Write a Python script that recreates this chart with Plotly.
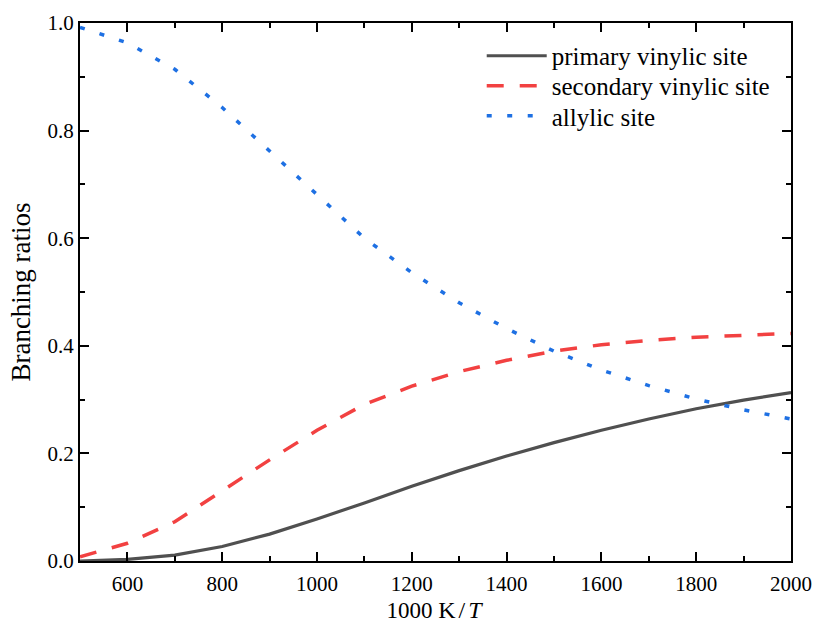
import plotly.graph_objects as go

# Inverse temperature grid, 1000 K/T
inv_T = [500, 600, 700, 800, 900, 1000, 1100, 1200, 1300, 1400,
         1500, 1600, 1700, 1800, 1900, 2000]

# Branching ratios for H-abstraction at each site
primary_vinylic = [0.000, 0.003, 0.011, 0.027, 0.050, 0.078, 0.108, 0.139,
                   0.168, 0.195, 0.220, 0.243, 0.264, 0.283, 0.299, 0.313]
secondary_vinylic = [0.008, 0.033, 0.073, 0.130, 0.188, 0.243, 0.291, 0.325,
                     0.352, 0.373, 0.390, 0.402, 0.410, 0.416, 0.420, 0.423]
allylic = [0.992, 0.963, 0.914, 0.843, 0.762, 0.680, 0.600, 0.536,
           0.480, 0.432, 0.390, 0.355, 0.326, 0.301, 0.281, 0.264]

series_names = ["primary vinylic site", "secondary vinylic site", "allylic site"]

FONT = "Times New Roman, Liberation Serif, serif"

fig = go.Figure()
fig.add_trace(go.Scatter(
    x=inv_T, y=primary_vinylic, mode="lines", name=series_names[0],
    line=dict(color="#505050", width=3.2), legend="legend", showlegend=True,
))
fig.add_trace(go.Scatter(
    x=inv_T, y=secondary_vinylic, mode="lines", name=series_names[1],
    line=dict(color="#F24141", width=3.5, dash="17px,16px"),
    legend="legend2", showlegend=True,
))
fig.add_trace(go.Scatter(
    x=inv_T, y=allylic, mode="lines", name=series_names[2],
    line=dict(color="#1E70E3", width=3.5, dash="5px,15.5px"),
    legend="legend3", showlegend=True,
))

axis_common = dict(
    showline=True, linecolor="black", linewidth=2,
    mirror="allticks", ticks="inside", ticklen=9, tickwidth=2,
    tickcolor="black", showgrid=False, zeroline=False, automargin=False,
    tickfont=dict(family=FONT, size=21, color="black"),
)

fig.update_xaxes(
    range=[500, 2000], tick0=0, dtick=200, ticklabelstandoff=3,
    minor=dict(ticks="inside", ticklen=5, tickwidth=2, dtick=100,
               tickcolor="black", showgrid=False),
    title=dict(
        text="1000&nbsp;<span style='font-size:24px;letter-spacing:3px'>K/<i>T</i></span>",
        font=dict(family=FONT, size=23, color="black"), standoff=7),
    **axis_common,
)
fig.update_yaxes(
    range=[0, 1], tick0=0, dtick=0.2, tickformat=".1f",
    minor=dict(ticks="inside", ticklen=5, tickwidth=2, dtick=0.1,
               tickcolor="black", showgrid=False),
    title=dict(text="Branching ratios",
               font=dict(family=FONT, size=27, color="black"), standoff=9),
    **axis_common,
)

legend_style = dict(
    x=0.565, xanchor="left", yanchor="middle",
    font=dict(family=FONT, size=25, color="black"),
    bgcolor="rgba(0,0,0,0)", itemwidth=60,
)

fig.update_layout(
    width=814, height=623, showlegend=True,
    margin=dict(l=80, r=23, t=23, b=62),
    plot_bgcolor="white", paper_bgcolor="white",
    legend=dict(y=0.9387, **legend_style),
    legend2=dict(y=0.8829, **legend_style),
    legend3=dict(y=0.8271, **legend_style),
)

fig.write_html("out.html")
